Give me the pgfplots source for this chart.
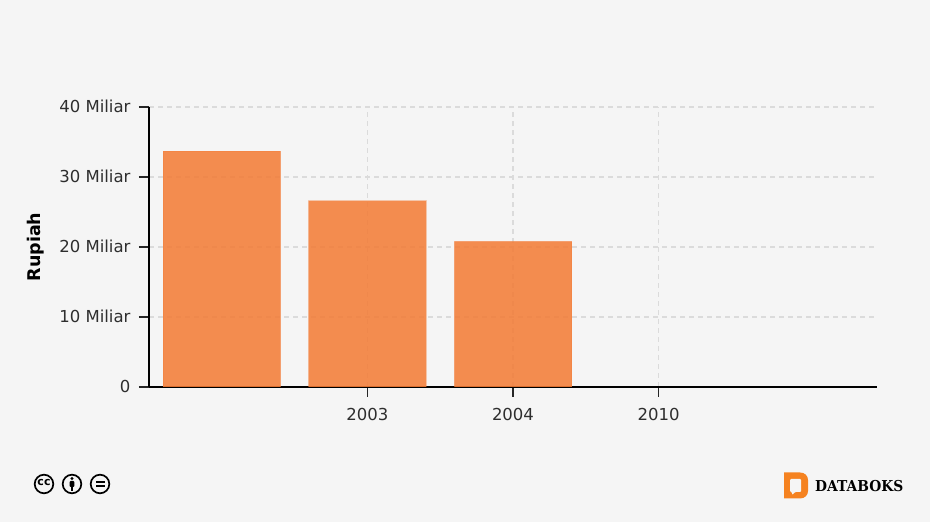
\documentclass[border=0pt]{standalone}
\usepackage{fontspec}
\setmainfont{DejaVu Sans}
\newfontfamily\logofont[FakeStretch=0.92]{DejaVu Serif}
\usepackage{pgfplots}
\pgfplotsset{compat=1.18}
\definecolor{PageBg}{HTML}{F5F5F5}
\definecolor{BarOrange}{HTML}{F37A33}
\definecolor{LogoOrange}{HTML}{F58220}
\definecolor{TickText}{HTML}{2E2E2E}

\begin{document}
\begin{tikzpicture}[x=1pt,y=1pt]
\fill[PageBg] (0,0) rectangle (930,522);
\path[use as bounding box] (0,0) rectangle (930,522);
\begin{axis}[
 at={(149pt,135pt)}, anchor=south west,
 scale only axis, width=728pt, height=280pt,
 xmin=-0.5, xmax=4.5, ymin=0, ymax=40,
 axis x line=bottom, axis y line=left,
 axis line style={-, black, line width=1.2pt},
 xtick={1,2,3}, xticklabels={2003,2004,2010},
 ytick={0,10,20,30,40},
 yticklabels={0,10 Miliar,20 Miliar,30 Miliar,40 Miliar},
 tick align=outside, major tick length=10pt,
 tick style={black!85, line width=1.2pt},
 grid=major, grid style={black!14, line width=1.3pt, dash pattern=on 5pt off 4pt},
 tick label style={font=\fontsize{16.5}{18}\selectfont, text=TickText},
 /pgf/number format/assume math mode=true,
 xticklabel style={yshift=-8pt},
 yticklabel style={xshift=-5pt, yshift=1pt},
 ylabel={\textbf{Rupiah}},
 ylabel style={font=\fontsize{17.5}{18}\selectfont, at={(axis description cs:0,0.5)}, anchor=south, yshift=101pt},
 ybar, bar width=117.5pt, bar shift=0pt,
 clip=false,
]
\addplot[fill=BarOrange, fill opacity=0.85, draw=BarOrange, draw opacity=0.3, line width=1pt]
 coordinates {(0,33.7) (1,26.6) (2,20.8)};
\addplot[draw=none, fill=none] coordinates {(3,0)};
\end{axis}
% licence icons
\foreach \cx in {44,72,100} \draw[black, line width=1.7pt, fill=PageBg] (\cx,38) circle (9.3);
\node[font=\fontsize{11}{11}\bfseries\selectfont, inner sep=0pt] at (44,39.5) {cc};
\fill[black] (72,43.5) circle (1.7);
\fill[black, rounded corners=1pt] (69.6,41) rectangle (74.4,35);
\fill[black] (70.6,35.5) rectangle (73.4,30.5);
\fill[black] (95.5,39.4) rectangle (104.5,41.2);
\fill[black] (95.5,34.8) rectangle (104.5,36.6);
% logo
\fill[LogoOrange] (784,49.5) -- (800,49.5) .. controls (805,49.5) and (808,46) .. (808,42) -- (808,31) .. controls (808,27) and (805,23.5) .. (800,23.5) -- (784,23.5) -- cycle;
\fill[PageBg, rounded corners=1pt] (790,43) -- (801,43) -- (801,30) -- (795,30) -- (792,27) -- (792,30) -- (790,30) -- cycle;
\node[font=\fontsize{15}{15}\selectfont\bfseries\logofont, anchor=west, inner sep=0pt] at (815,36) {DATABOKS};
\end{tikzpicture}
\end{document}
